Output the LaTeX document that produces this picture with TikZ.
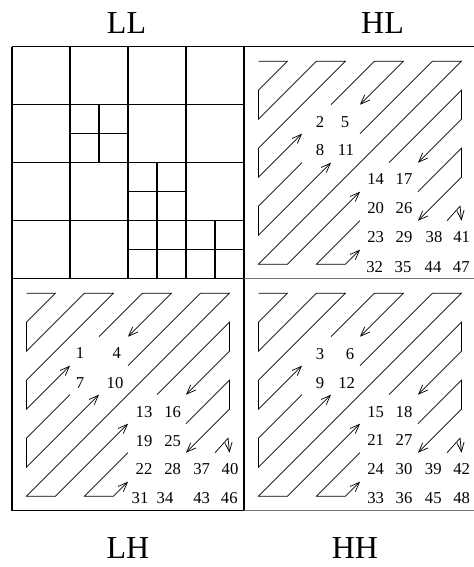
\documentclass[tikz,border=0pt]{standalone}
\usepackage{fontspec}
\setmainfont{Liberation Serif}
\usetikzlibrary{arrows.meta}
\newcommand\scanpat[1]{%
  \begin{scope}[shift={#1}, x=10.875pt, y=-10.875pt]
    \draw[pat,arr] (1,1)--(3,1)--(1,3)--(1,5)--(5,1)--(7,1)--(1,7)--(1,9)--(4,6);
    \draw[pat,arr] (6,4)--(9,1)--(11,1)--(8,4);
    \draw[pat,arr] (8,6)--(13,1)--(15,1)--(1,15)--(3,15)--(8,10);
    \draw[pat,arr] (4,8)--(1,11)--(1,13)--(6,8);
    \draw[pat,arr] (8,12)--(5,15)--(7,15)--(8,14);
    \draw[pat,arr] (10,8)--(15,3)--(15,5)--(12,8);
    \draw[pat,arr] (12,10)--(15,7)--(15,9)--(12,12);
    \draw[pat,arr] (14,12)--(14.9,11)--(15,12);
  \end{scope}}
\begin{document}
\begin{tikzpicture}[x=0.75pt,y=-0.75pt,
  gridline/.style={line width=0.8pt},
  grayline/.style={line width=1.1pt, draw=black!55},
  pat/.style={line width=0.55pt},
  arr/.style={-{Straight Barb[length=7pt,width=5.5pt]}},
  num/.style={font=\fontsize{12.5}{14}\selectfont, inner sep=0pt},
  lbl/.style={font=\fontsize{24}{28}\selectfont, inner sep=0pt}]
\useasboundingbox (0,0) rectangle (474,567);
% LL grid
\foreach \k in {0,1,2,3}{
  \draw[gridline] (12+58*\k,46.7) -- (12+58*\k,278.7);
  \draw[gridline] (12,46.7+58*\k) -- (244,46.7+58*\k);
}
\draw[gridline] (99,104.7) -- (99,162.7);
\draw[gridline] (70,133.7) -- (128,133.7);
\draw[gridline] (157,162.7) -- (157,278.7);
\draw[gridline] (128,191.7) -- (186,191.7);
\draw[gridline] (128,249.7) -- (244,249.7);
\draw[gridline] (215,220.7) -- (215,278.7);
% frame
\draw[gridline] (244,46.7) -- (474,46.7);
\draw[gridline] (12,46.7) -- (12,510.7);
\draw[gridline] (244,46.7) -- (244,510.7);
\draw[gridline] (12,278.7) -- (244,278.7);
\draw[gridline] (12,510.7) -- (244,510.7);
\draw[grayline] (244,278.7) -- (474,278.7);
\draw[grayline] (244,510.7) -- (474,510.7);
% scan patterns
\scanpat{(244,46.7)}
\scanpat{(12,278.7)}
\scanpat{(244,278.7)}
% HL numbers
\node[num] (n2) at (320,121.7) {2};
\node[num] (n5) at (345,121.7) {5};
\node[num] (n8) at (320,150) {8};
\node[num] (n11) at (346,150) {11};
\node[num] (n14) at (375.7,179.3) {14};
\node[num] (n17) at (404,179.3) {17};
\node[num] (n20) at (375.7,208.3) {20};
\node[num] (n26) at (404,208.3) {26};
\node[num] (n23) at (375.7,236.7) {23};
\node[num] (n29) at (404,236.7) {29};
\node[num] (n38) at (434,236.7) {38};
\node[num] (n41) at (461.7,236.7) {41};
\node[num] (n32) at (374.7,266.7) {32};
\node[num] (n35) at (403,266.7) {35};
\node[num] (n44) at (433,266.7) {44};
\node[num] (n47) at (461.3,266.7) {47};
% LH numbers
\node[num] (n1) at (80,353.3) {1};
\node[num] (n4) at (116.7,353.3) {4};
\node[num] (n7) at (80,382.7) {7};
\node[num] (n10) at (115,382.7) {10};
\node[num] (n13) at (144,411.7) {13};
\node[num] (n16) at (172.7,411.7) {16};
\node[num] (n19) at (144,440.7) {19};
\node[num] (n25) at (172.7,440.7) {25};
\node[num] (n22) at (144,469.3) {22};
\node[num] (n28) at (172.7,469.3) {28};
\node[num] (n37) at (201.7,469.3) {37};
\node[num] (n40) at (230,469.3) {40};
\node[num] (n31) at (140,498.3) {31};
\node[num] (n34) at (165,498.3) {34};
\node[num] (n43) at (201.7,498.3) {43};
\node[num] (n46) at (229.3,498.3) {46};
% HH numbers
\node[num] (n3) at (320,354) {3};
\node[num] (n6) at (350,354) {6};
\node[num] (n9) at (320,382.7) {9};
\node[num] (n12) at (346.7,382.7) {12};
\node[num] (n15) at (375.7,411.7) {15};
\node[num] (n18) at (404,411.7) {18};
\node[num] (n21) at (375.7,440) {21};
\node[num] (n27) at (404,440) {27};
\node[num] (n24) at (375.7,469.3) {24};
\node[num] (n30) at (404,469.3) {30};
\node[num] (n39) at (433.3,469.3) {39};
\node[num] (n42) at (461.7,469.3) {42};
\node[num] (n33) at (375.7,498.3) {33};
\node[num] (n36) at (404,498.3) {36};
\node[num] (n45) at (433.3,498.3) {45};
\node[num] (n48) at (461.7,498.3) {48};
% subband labels
\node[lbl] (ll) at (126.5,23) {LL};
\node[lbl] (hl) at (382.5,23) {HL};
\node[lbl] (lh) at (128,548) {LH};
\node[lbl] (hh) at (355,548) {HH};
\end{tikzpicture}
\end{document}
